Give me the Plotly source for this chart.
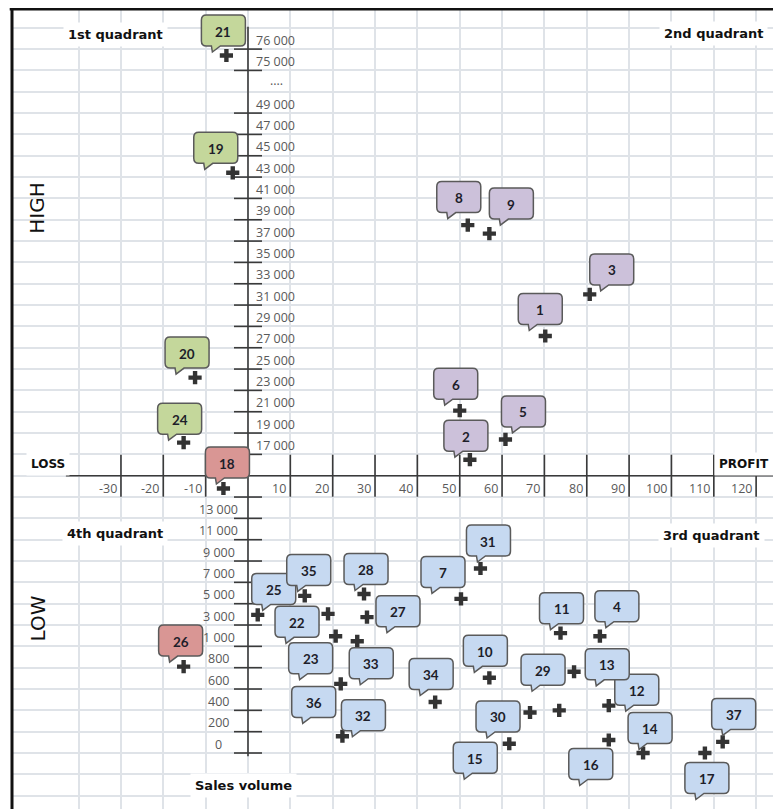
import numpy as np
import plotly.graph_objects as go

# ---------------- data ----------------
point_ids = list(range(1, 38))
profit = [70.2, 52.4, 80.7, 83.1, 60.8, 50.0, 50.3, 51.9, 57.0, 57.0,
          73.8, 85.2, 73.5, 93.3, 61.7, 85.2, 107.9, -5.8, -3.6, -12.5,
          -5.1, 18.9, 20.7, -15.2, 2.3, -15.2, 28.1, 27.4, 77.0, 66.6,
          54.9, 22.3, 25.8, 44.2, 13.4, 21.9, 112.1]
sales_volume = [28100, 16750, 32000, 1950, 18400, 21100, 5450, 38500, 37700, 705,
                2240, 444, 400, 0, 87, 122, 0, 15400, 43400, 24200,
                75700, 4050, 1950, 18100, 3950, 810, 3740, 5910, 762, 380,
                8300, 157, 1480, 478, 5730, 648, 104]

x_tick_values = [-30, -20, -10, 10, 20, 30, 40, 50, 60, 70, 80, 90, 100, 110, 120]
x_tick_labels = ["-30", "-20", "-10", "10", "20", "30", "40", "50", "60", "70",
                 "80", "90", "100", "110", "120"]
x_grid_values = [-40, -30, -20, -10, 0, 10, 20, 30, 40, 50, 60, 70, 80, 90, 100, 110, 120]

low_tick_values = [0, 200, 400, 600, 800, 1000, 3000, 5000, 7000, 9000, 11000, 13000, 15000]
low_tick_labels = ["0", "200", "400", "600", "800", "1 000", "3 000", "5 000", "7 000",
                   "9 000", "11 000", "13 000", ""]
high_tick_values = [17000, 19000, 21000, 23000, 25000, 27000, 29000, 31000, 33000, 35000,
                    37000, 39000, 41000, 43000, 45000, 47000, 49000, 75000, 76000]
high_tick_labels = ["17 000", "19 000", "21 000", "23 000", "25 000", "27 000", "29 000",
                    "31 000", "33 000", "35 000", "37 000", "39 000", "41 000", "43 000",
                    "45 000", "47 000", "49 000", "75 000", "76 000"]
break_label = "...."
break_after = 49000

quadrant_names = ["1st quadrant", "2nd quadrant", "3rd quadrant", "4th quadrant"]
axis_names = ["LOSS", "PROFIT", "HIGH", "LOW", "Sales volume"]

# callout offsets (screen px, label centre relative to point; +dy = down)
label_dx = [-5, -4, 22, 17, 18, -4, -18, -9, 22, -4, 1, 28, 48, 7, -34, -18, 2, 4, -17, -8,
            -3, -31, -25, -4, 16, -3, 31, 2, -31, -32, 8, 21, 14, -4, 4, -27, 11]
label_dy = [-27, -24, -25, -30, -28, -27, -27, -28, -30, -27, -25, -16, -46, -25, 14, 24, 25, -26, -25, -25,
            -25, 8, 22, -24, -26, -26, -6, -25, -2, 4, -28, -21, 22, -28, -26, 18, -28]

# ---------------- broken sales-volume axis (slot positions) ----------------
low_slots = list(range(len(low_tick_values)))
axis_slot = len(low_tick_values)
high_slots = []
s = axis_slot + 1
break_slot = None
for v in high_tick_values:
    high_slots.append(s)
    s += 1
    if v == break_after:
        break_slot = s
        s += 1
top_slot = s - 1
all_vals = low_tick_values + high_tick_values
all_slots = low_slots + high_slots
y_pos = np.interp(sales_volume, all_vals, all_slots)

AX = "#3a3a3a"
GRID = "#dfe3e8"
TICKFONT = dict(family="Open Sans", size=12.5, color="#595959")
fill = {"q1": "#c4d79b", "q2": "#ccc1da", "q3": "#c6d9f1", "q4": "#d99694"}


def bubble_path(cx, cy, w=44, h=31, r=5):
    # pixel coordinates relative to the anchor point, y upwards
    L, R, T, B = cx - w / 2, cx + w / 2, cy + h / 2, cy - h / 2
    t1, t2, ta = L + 10, L + 19, L + 11
    p = [f"M{L + r},{T}", f"L{R - r},{T}", f"Q{R},{T} {R},{T - r}", f"L{R},{B + r}",
         f"Q{R},{B} {R - r},{B}", f"L{t2},{B}", f"L{ta},{B - 6}", f"L{t1},{B}",
         f"L{L + r},{B}", f"Q{L},{B} {L},{B + r}", f"L{L},{T - r}", f"Q{L},{T} {L + r},{T}", "Z"]
    return " ".join(p)


fig = go.Figure()

fig.add_trace(go.Scatter(x=[0] * len(all_slots), y=all_slots, mode="markers",
                         marker=dict(symbol="line-ew", size=20, line=dict(width=1.6, color=AX)),
                         hoverinfo="skip", showlegend=False))
fig.add_trace(go.Scatter(x=x_tick_values, y=[axis_slot] * len(x_tick_values), mode="markers",
                         marker=dict(symbol="line-ns", size=30, line=dict(width=1.6, color=AX)),
                         hoverinfo="skip", showlegend=False))
fig.add_trace(go.Scatter(x=profit, y=y_pos, mode="markers",
                         marker=dict(symbol="cross", size=11, color="#333333", line=dict(width=0)),
                         text=[str(i) for i in point_ids],
                         hovertemplate="#%{text}<br>profit %{x}<extra></extra>", showlegend=False))

ann = []
for v, lab, sl in zip(low_tick_values, low_tick_labels, low_slots):
    if lab:
        ann.append(dict(x=0, y=sl, text=lab, showarrow=False, xanchor="center", yanchor="middle",
                        xshift=-29, yshift=9, font=TICKFONT))
for v, lab, sl in zip(high_tick_values, high_tick_labels, high_slots):
    ann.append(dict(x=0, y=sl, text=lab, showarrow=False, xanchor="left", yanchor="middle",
                    xshift=6, yshift=9, font=TICKFONT))
ann.append(dict(x=0, y=break_slot, text=break_label, showarrow=False, xanchor="left",
                yanchor="middle", xshift=20, yshift=11, font=TICKFONT))
for v, lab in zip(x_tick_values, x_tick_labels):
    ann.append(dict(x=v, y=axis_slot, text=lab, showarrow=False, xanchor="right", yanchor="middle",
                    xshift=-2, yshift=-13, font=TICKFONT))

shapes = [
    dict(type="line", xref="x", yref="y", x0=-43, x1=130, y0=axis_slot, y1=axis_slot,
         line=dict(color=AX, width=1.6), layer="between"),
    dict(type="line", xref="x", yref="y", x0=0, x1=0, y0=-0.15, y1=top_slot + 1.05,
         line=dict(color=AX, width=1.6), layer="between"),
    dict(type="line", xref="paper", yref="paper", x0=-0.003, x1=1, y0=1, y1=1,
         line=dict(color="#111111", width=3)),
    dict(type="line", xref="paper", yref="paper", x0=0, x1=0, y0=0, y1=1.003,
         line=dict(color="#111111", width=3)),
]

for i, pid in enumerate(point_ids):
    high = y_pos[i] > axis_slot
    gain = profit[i] > 0
    key = "q2" if (high and gain) else "q1" if high else "q3" if gain else "q4"
    shapes.append(dict(type="path", xref="x", yref="y", xsizemode="pixel", ysizemode="pixel",
                       xanchor=profit[i], yanchor=y_pos[i],
                       path=bubble_path(label_dx[i], -label_dy[i]),
                       fillcolor=fill[key], line=dict(color="#5a5a5a", width=1.5), layer="above"))
    ann.append(dict(x=profit[i], y=y_pos[i], text="<b>%d</b>" % pid, showarrow=False,
                    xshift=label_dx[i], yshift=-label_dy[i] - 1,
                    font=dict(family="Lato", size=13.5, color="#1e1e2a")))

BOLD = dict(family="DejaVu Sans", size=13, color="#111111")
txt = [
    (quadrant_names[0], 0.134, 0.9675, BOLD),
    (quadrant_names[1], 0.9116, 0.969, BOLD),
    (quadrant_names[2], 0.909, 0.3425, BOLD),
    (quadrant_names[3], 0.134, 0.344, BOLD),
    (axis_names[4], 0.3004, 0.03, BOLD),
    (axis_names[0], 0.0468, 0.431, dict(family="DejaVu Sans", size=12, color="#111111")),
    (axis_names[1], 0.952, 0.431, dict(family="DejaVu Sans", size=12, color="#111111")),
]
for t, px, py, f in txt:
    ann.append(dict(xref="paper", yref="paper", x=px, y=py, text="<b>%s</b>" % t, showarrow=False,
                    xanchor="center", yanchor="middle", bgcolor="white", borderpad=4, font=f))
for t, py in [(axis_names[2], 0.751), (axis_names[3], 0.2375)]:
    ann.append(dict(xref="paper", yref="paper", x=0.0332, y=py, text=t, showarrow=False,
                    textangle=-90, xanchor="center", yanchor="middle",
                    font=dict(family="DejaVu Sans", size=20, color="#111111")))

fig.update_layout(
    width=773, height=801,
    margin=dict(l=4, r=0, t=1, b=0, pad=0),
    paper_bgcolor="white", plot_bgcolor="white",
    showlegend=False,
    annotations=ann, shapes=shapes,
    xaxis=dict(range=[-55.73, 125.87], tickmode="array", tickvals=x_grid_values,
               showticklabels=False, ticks="", showgrid=True, gridcolor=GRID, gridwidth=1.5,
               zeroline=False, showline=False, fixedrange=True),
    yaxis=dict(range=[-2.625, 34.88], tick0=0, dtick=1, showticklabels=False, ticks="",
               showgrid=True, gridcolor=GRID, gridwidth=1.5, zeroline=False, showline=False,
               fixedrange=True),
)

fig.write_html("out.html")
